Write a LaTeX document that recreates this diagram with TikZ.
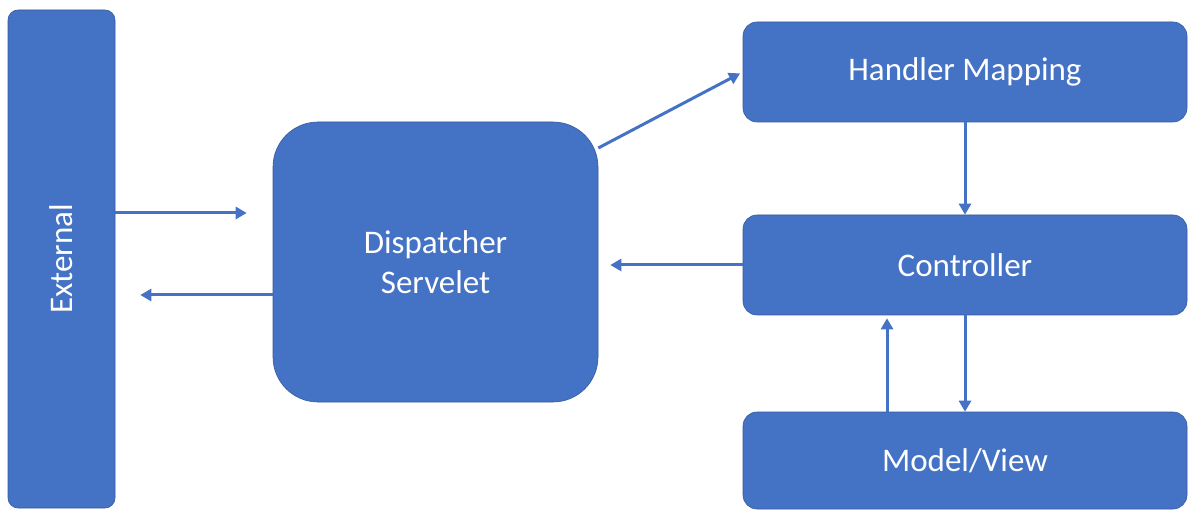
\documentclass[tikz,border=0pt]{standalone}
\usepackage{fontspec}
\setmainfont{Carlito}
\usepackage{tikz}
\usetikzlibrary{arrows.meta,positioning}

\definecolor{officeblue}{HTML}{4472C4}

\tikzset{
  block/.style={fill=officeblue,draw=officeblue!80!black,line width=0.6pt,text=white,
    font=\fontsize{33}{40}\selectfont,align=center,inner sep=0pt},
  flow/.style={draw=officeblue,line width=3pt,-{Triangle[length=11pt,width=12pt]}}
}

\begin{document}
\begin{tikzpicture}[x=1pt,y=-1pt]
\useasboundingbox (0,0) rectangle (1188,510);

\node[block,rounded corners=10pt,minimum width=107pt,minimum height=498pt] (ext) at (61.5,259) {};
\node[white,font=\fontsize{33}{40}\selectfont,rotate=90] (extlabel) at (ext.center) {External};
\node[block,rounded corners=45pt,minimum width=325pt,minimum height=280pt] (disp) at (435.5,262) {Dispatcher\\Servelet};
\node[block,rounded corners=14pt,minimum width=444pt,minimum height=100pt] (hm) at (965,72) {Handler Mapping};
\node[block,rounded corners=14pt,minimum width=444pt,minimum height=100pt] (ctrl) at (965,265) {Controller};
\node[block,rounded corners=14pt,minimum width=444pt,minimum height=97pt] (mv) at (965,460.5) {Model/View};

\draw[flow,shorten >=26pt] (ext.east |- 0,213) -- (disp.west |- 0,213);
\draw[flow,shorten >=25pt] (disp.west |- 0,295) -- (ext.east |- 0,295);
\draw[flow,shorten >=3pt] (disp.35) -- (hm.west);
\draw[flow] (hm.south) -- (ctrl.north);
\draw[flow,shorten >=12pt] (ctrl.west) -- (disp.east |- ctrl.west);
\draw[flow] (ctrl.south) -- (mv.north);
\draw[flow,shorten >=3pt] ([xshift=-78pt]mv.north) -- ([xshift=-78pt]ctrl.south);
\end{tikzpicture}
\end{document}
